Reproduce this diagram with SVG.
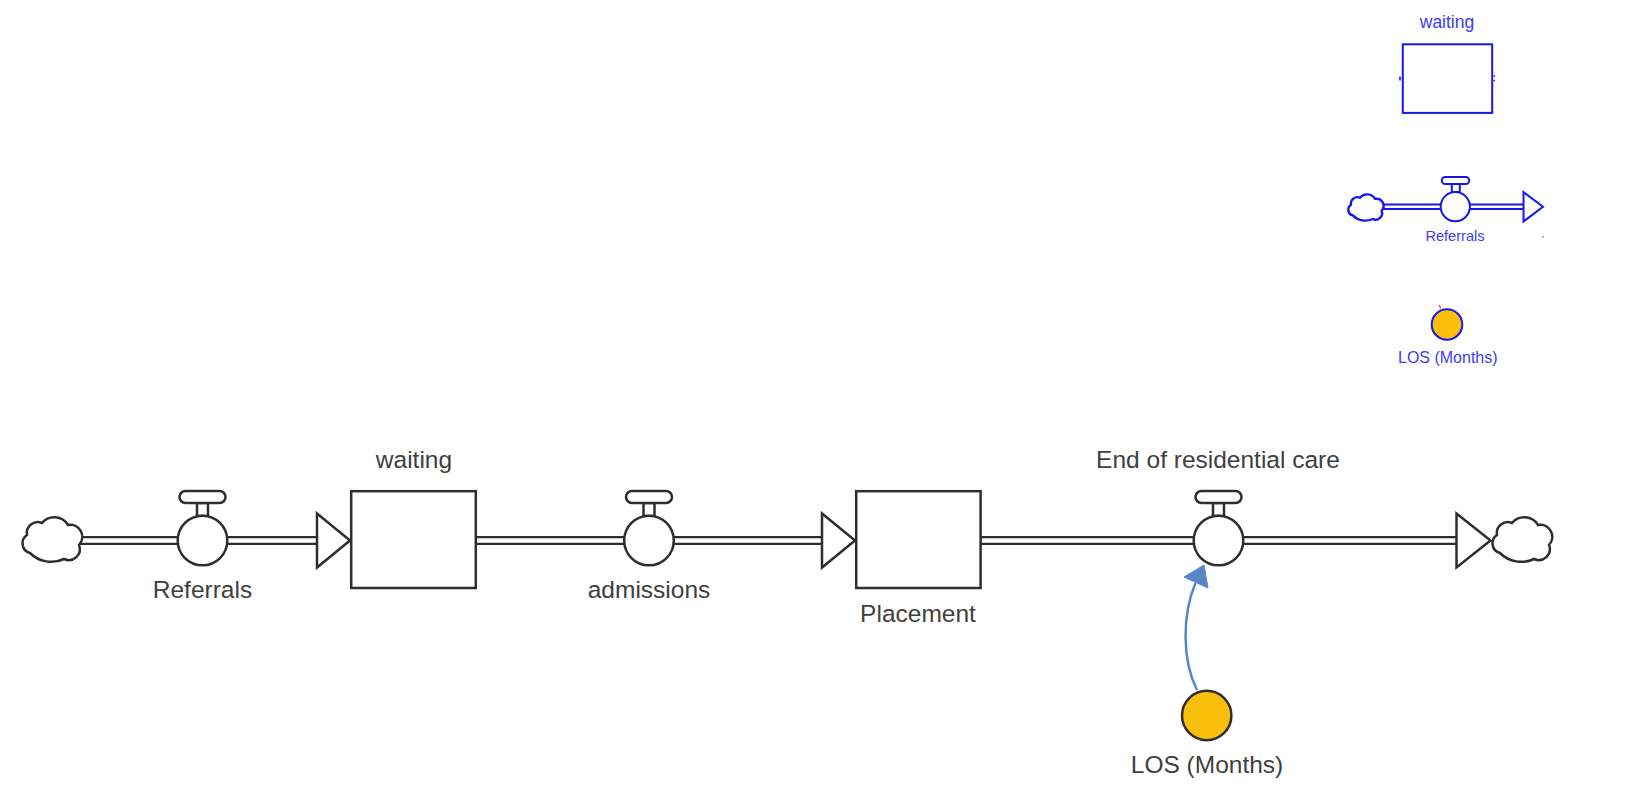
<svg xmlns="http://www.w3.org/2000/svg" xmlns:xlink="http://www.w3.org/1999/xlink" width="1627" height="793" viewBox="0 0 1627 793">
<style>
  .lbl { font-family: "Liberation Sans", Arial, sans-serif; font-size: 24.5px; fill: #404040; text-anchor: middle; }
  .blbl { font-family: "Liberation Sans", Arial, sans-serif; fill: #3c3cf2; text-anchor: middle; }
  .shape { fill: #ffffff; stroke: #2e2e2e; stroke-width: 2.5; }
  .bshape { fill: #ffffff; stroke: #1616ee; stroke-width: 2; }
  .bcloud { fill: #ffffff; stroke: #1616ee; stroke-width: 4; }
  .pipeOut { stroke: #2e2e2e; stroke-width: 9; fill: none; }
  .pipeIn { stroke: #ffffff; stroke-width: 4.4; fill: none; }
  .bpipeOut { stroke: #1616ee; stroke-width: 6.5; fill: none; }
  .bpipeIn { stroke: #ffffff; stroke-width: 2.6; fill: none; }
  .aux { fill: #f9bf0b; stroke: #2e2e2e; stroke-width: 2.5; }
  .link { fill: none; stroke: #5a86c8; stroke-width: 2.5; }
</style>
<defs>
  <path id="cloudShape" d="M8,38 A10,10 0 0 1 5,20 A11,11 0 0 1 20,8 A16,16 0 0 1 46,10 A12,12 0 0 1 57,30 A11,11 0 0 1 42,44 A30,30 0 0 1 8,38 Z"/>
  <g id="valve">
    <rect x="-5.5" y="-37.5" width="11" height="13"/>
    <rect x="-23" y="-49.5" width="46" height="12" rx="6" ry="6"/>
    <circle cx="0" cy="0" r="24.8"/>
  </g>
</defs>
<rect x="0" y="0" width="1627" height="793" fill="#ffffff"/>

<g id="connectors">
  <line class="pipeOut" x1="70" y1="540.5" x2="318" y2="540.5"/>
  <line class="pipeIn" x1="70" y1="540.5" x2="319" y2="540.5"/>
  <line class="pipeOut" x1="476" y1="540.5" x2="823" y2="540.5"/>
  <line class="pipeIn" x1="474" y1="540.5" x2="824" y2="540.5"/>
  <line class="pipeOut" x1="980" y1="540.5" x2="1458" y2="540.5"/>
  <line class="pipeIn" x1="978" y1="540.5" x2="1459" y2="540.5"/>
  <path class="link" d="M1197,690 C1182,660 1182,615 1195.5,583"/>
  <polygon points="1184,577 1208,588 1204,565" fill="#5a86c8" stroke="#5a86c8" stroke-width="1" stroke-linejoin="round"/>
  <polygon class="shape" points="317,513.5 350,540.5 317,567.5"/>
  <polygon class="shape" points="822,513.5 855,540.5 822,567.5"/>
  <polygon class="shape" points="1456.5,513.5 1490.5,540.5 1456.5,567.5"/>
</g>

<g id="cloud-source">
  <use xlink:href="#cloudShape" href="#cloudShape" class="shape" transform="translate(22,515)"/>
</g>
<g id="cloud-sink">
  <use xlink:href="#cloudShape" href="#cloudShape" class="shape" transform="translate(1492,515)"/>
</g>

<g id="flow-referrals">
  <use xlink:href="#valve" href="#valve" class="shape" transform="translate(202.5,540.5)"/>
  <text class="lbl" x="202.5" y="598">Referrals</text>
</g>

<g id="stock-waiting">
  <rect class="shape" x="351.2" y="491.2" width="124.6" height="96.8"/>
  <text class="lbl" x="414" y="468">waiting</text>
</g>

<g id="flow-admissions">
  <use xlink:href="#valve" href="#valve" class="shape" transform="translate(649,540.5)"/>
  <text class="lbl" x="649" y="598">admissions</text>
</g>

<g id="stock-placement">
  <rect class="shape" x="856.2" y="491.2" width="124.4" height="96.8"/>
  <text class="lbl" x="918" y="621.5">Placement</text>
</g>

<g id="flow-end">
  <use xlink:href="#valve" href="#valve" class="shape" transform="translate(1218.5,540.5)"/>
  <text class="lbl" x="1218" y="468">End of residential care</text>
</g>

<g id="aux-los">
  <circle class="aux" cx="1206.7" cy="715.5" r="24.7"/>
  <text class="lbl" x="1207" y="773">LOS (Months)</text>
</g>

<g id="legend-stock">
  <text class="blbl" x="1447" y="28.3" font-size="17.5">waiting</text>
  <rect class="bshape" x="1402.8" y="44.3" width="89.4" height="68.6"/>
  <line x1="1400" y1="76.5" x2="1400" y2="80.5" stroke="#1616ee" stroke-width="1.6"/>
  <path d="M1493.5,75.5 L1495,76.3 M1493.5,81 L1495,80.2" stroke="#1616ee" stroke-width="1.4" fill="none"/>
</g>

<g id="legend-flow">
  <line class="bpipeOut" x1="1378" y1="206.7" x2="1524" y2="206.7"/>
  <line class="bpipeIn" x1="1378" y1="206.7" x2="1525" y2="206.7"/>
  <use xlink:href="#cloudShape" href="#cloudShape" class="bcloud" transform="translate(1348,193) scale(0.59)"/>
  <rect class="bshape" x="1451.8" y="183.5" width="8" height="8.5"/>
  <rect class="bshape" x="1441.8" y="177" width="27.4" height="7" rx="3.5" ry="3.5"/>
  <circle class="bshape" cx="1455.3" cy="206.7" r="14.6"/>
  <polygon class="bshape" points="1523.5,192 1543,206.7 1523.5,221.5"/>
  <circle cx="1543" cy="236.7" r="0.8" fill="#5555ee"/>
  <text class="blbl" x="1455" y="240.7" font-size="14.6">Referrals</text>
</g>

<g id="legend-aux">
  <line x1="1439.5" y1="305" x2="1440.5" y2="308.5" stroke="#e0207a" stroke-width="1.2"/>
  <circle cx="1447" cy="324.5" r="15.3" fill="#f9bf0b" stroke="#1616ee" stroke-width="2"/>
  <text class="blbl" x="1447.8" y="362.7" font-size="16">LOS (Months)</text>
</g>
</svg>
